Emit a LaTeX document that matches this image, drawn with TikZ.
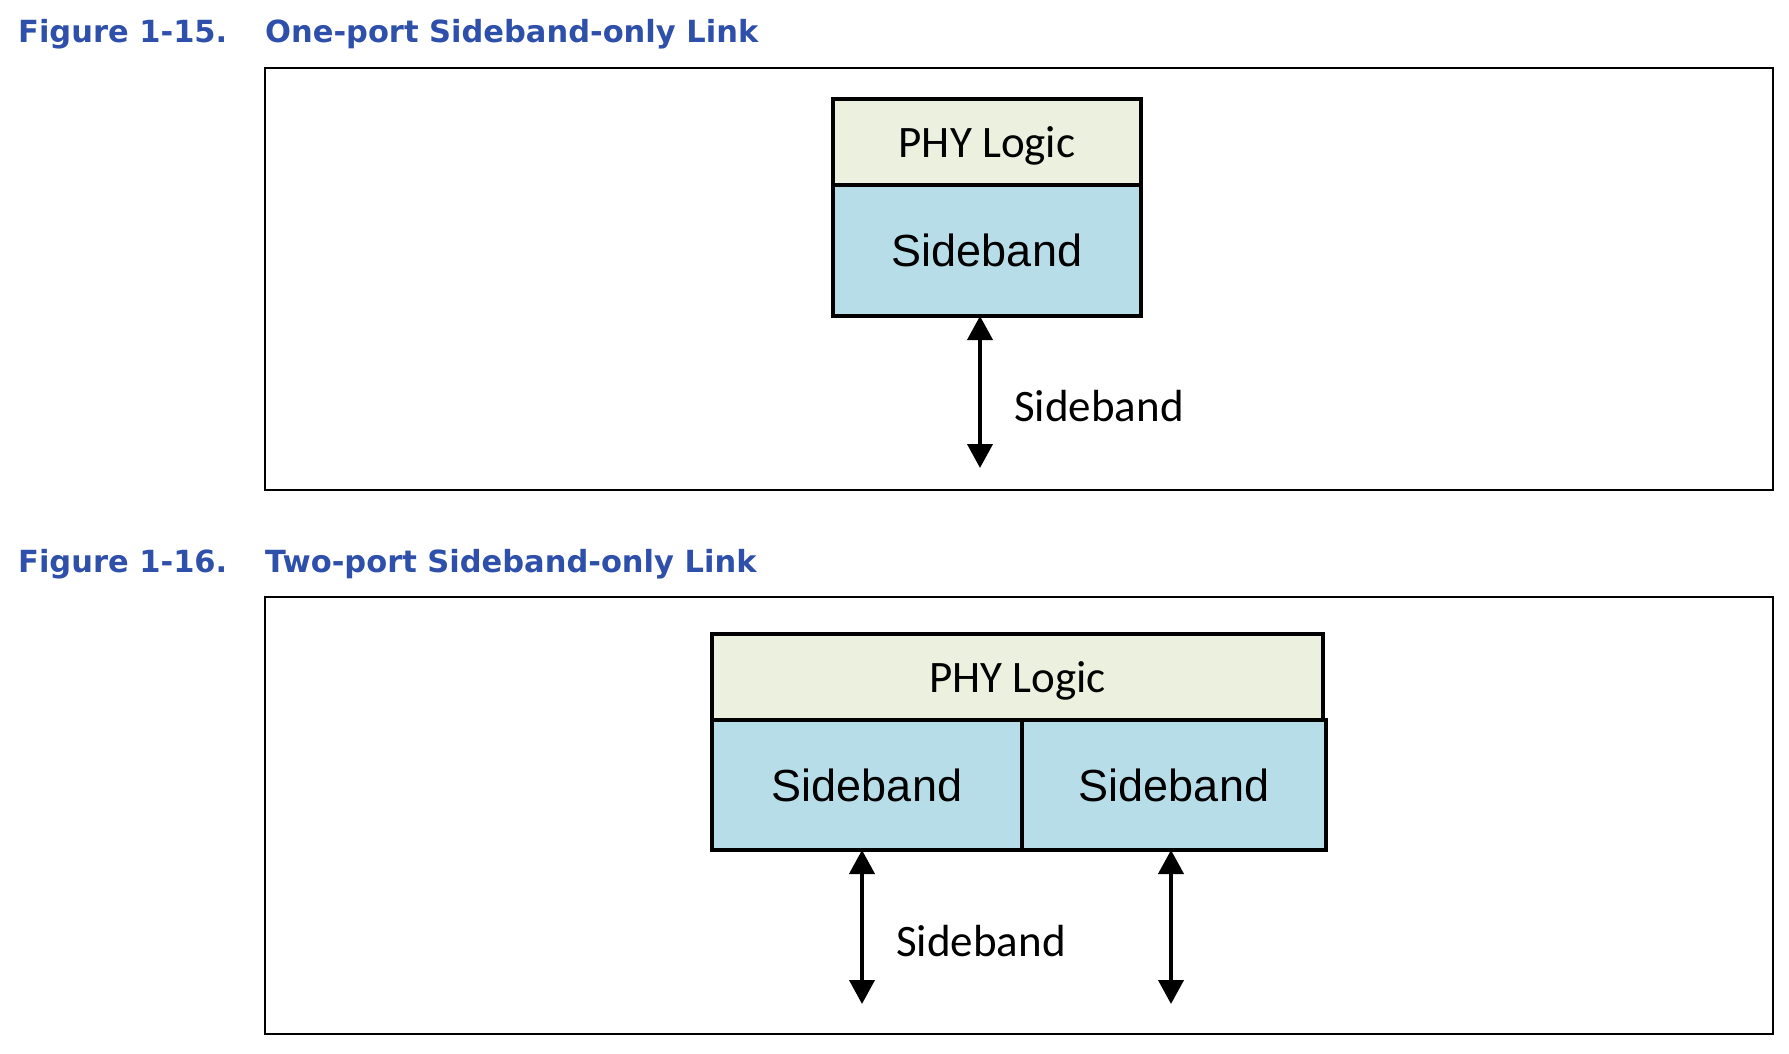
\documentclass[tikz,border=0pt]{standalone}
\usepackage{fontspec}
\usetikzlibrary{positioning,arrows.meta}
\newfontfamily\calibrifont{Carlito}
\newfontfamily\arialfont{Liberation Sans}
\newfontfamily\titlefont{DejaVu Sans}
\definecolor{phygreen}{HTML}{EBF1DE}
\definecolor{sbblue}{HTML}{B7DEE8}
\definecolor{capblue}{HTML}{2E50AA}
\tikzset{
	phybox/.style={draw,line width=4.5pt,fill=phygreen,inner sep=0pt,outer sep=0pt,
		text depth=0pt,font=\calibrifont\fontsize{45}{52}\selectfont},
	sbbox/.style={draw,line width=4.5pt,fill=sbblue,inner sep=0pt,outer sep=0pt,
		font=\arialfont\fontsize{45}{52}\selectfont},
	frame/.style={draw,line width=1.4pt},
	caption/.style={anchor=base west,inner sep=0pt,text=capblue,
		font=\titlefont\bfseries\fontsize{30.5}{36}\selectfont},
	biarrow/.style={line width=4pt,{Triangle[width=25pt,length=24pt]}-{Triangle[width=25pt,length=24pt]}},
	sblabel/.style={anchor=west,inner sep=0pt,font=\calibrifont\fontsize{45}{52}\selectfont}
}
\begin{document}
\begin{tikzpicture}[x=1pt,y=-1pt]
	\useasboundingbox (0,0) rectangle (1789,1054);
	% captions
	\node[caption] (numA) at (18,43) {Figure 1-15.};
	\node[caption] (capA) at (265,43) {One-port Sideband-only Link};
	\node[caption] (numB) at (18,572) {Figure 1-16.};
	\node[caption] (capB) at (265,572) {Two-port Sideband-only Link};
	% frames
	\draw[frame] (265,68) rectangle (1773,490);
	\draw[frame] (265,597) rectangle (1773,1034);
	% one-port
	\node[phybox,minimum width=308pt,minimum height=86pt] (phyA) at (987,142) {PHY Logic};
	\node[sbbox,minimum width=308pt,minimum height=131pt,below=0pt of phyA] (sbA) {Sideband};
	\coordinate (endA) at (980,468);
	\draw[biarrow] (endA |- sbA.south) -- (endA);
	\node[sblabel] (lblA) at (1014,406) {Sideband};
	% two-port
	\node[phybox,minimum width=611pt,minimum height=86pt] (phyB) at (1017.5,677) {PHY Logic};
	\node[sbbox,minimum width=310pt,minimum height=130pt,anchor=north west] (sbL) at (phyB.south west) {Sideband};
	\node[sbbox,minimum width=304pt,minimum height=130pt,right=0pt of sbL] (sbR) {Sideband};
	\foreach \n/\x in {L/862,R/1171}{
		\coordinate (end\n) at (\x,1004);
		\draw[biarrow] (end\n |- sb\n.south) -- (end\n);
	}
	\node[sblabel] (lblB) at (896,941) {Sideband};
\end{tikzpicture}
\end{document}
